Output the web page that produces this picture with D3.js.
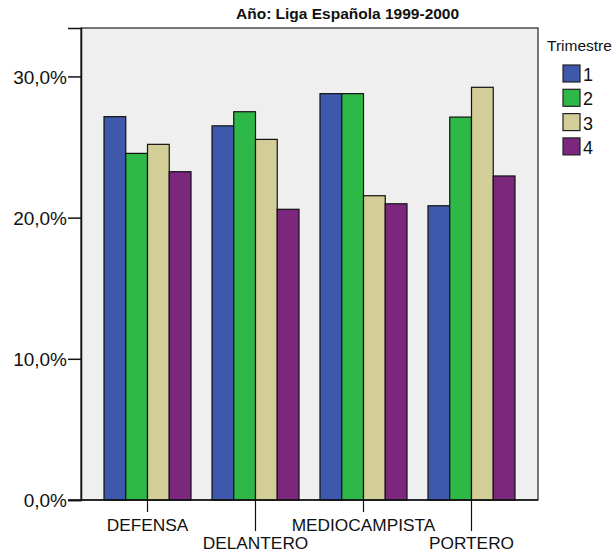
<!DOCTYPE html>
<html><head><meta charset="utf-8">
<script src="https://cdn.jsdelivr.net/npm/d3@7"></script>
<style>body{margin:0;background:#fff;} text{font-family:Arial,"Liberation Sans",sans-serif;}</style>
</head><body>
<svg id="c" width="614" height="557"></svg>
<script>
const categories = ["DEFENSA","DELANTERO","MEDIOCAMPISTA","PORTERO"];
const quarters = ["1","2","3","4"];
const q1 = [27.15, 26.5, 28.78, 20.84];
const q2 = [24.55, 27.5, 28.78, 27.12];
const q3 = [25.19, 25.54, 21.55, 29.23];
const q4 = [23.25, 20.59, 20.98, 22.95];
const yTicks = [0, 10, 20, 30];
const colors = ["#3e58ac", "#2eb848", "#d3ce97", "#7b277d"];
const title = "Año: Liga Española 1999-2000";
const legendTitle = "Trimestre";

const series = [q1, q2, q3, q4];
const svg = d3.select("#c");
const L = 81, R = 538, T = 28, B = 500;

const x = d3.scaleBand().domain(categories).range([L, R]).paddingInner(0.1944).paddingOuter(0.213);
const xi = d3.scaleBand().domain(quarters).range([0, x.bandwidth()]);
const y = d3.scaleLinear().domain([0, 33.43]).range([B, T]);

svg.append("rect").attr("x", L).attr("y", T).attr("width", R - L).attr("height", B - T)
  .attr("fill", "#efefef").attr("stroke", "#222").attr("stroke-width", 1.2);

categories.forEach((c, ci) => {
  const g = svg.append("g").attr("transform", `translate(${x(c)},0)`);
  quarters.forEach((q, qi) => {
    const v = series[qi][ci];
    g.append("rect").attr("x", xi(q)).attr("y", y(v)).attr("width", xi.bandwidth()).attr("height", B - y(v))
      .attr("fill", colors[qi]).attr("stroke", "#111").attr("stroke-width", 1.2);
  });
});

// y axis
const yAxis = d3.axisLeft(y).tickValues(yTicks).tickSize(13).tickPadding(1)
  .tickFormat(d => d3.format(".1f")(d).replace(".", ",") + "%");
const ya = svg.append("g").attr("transform", `translate(${L},0)`).call(yAxis);
ya.select(".domain").attr("stroke", "#111").attr("stroke-width", 1.5);
ya.selectAll(".tick line").attr("stroke", "#111").attr("stroke-width", 1.5);
ya.selectAll(".tick text").attr("font-size", 19).attr("fill", "#111").attr("dy", "0.35em")
  .style("font-family", "Arial, 'Liberation Sans', sans-serif");

// x axis
svg.append("line").attr("x1", L - 13).attr("x2", R).attr("y1", B).attr("y2", B).attr("stroke", "#111").attr("stroke-width", 1.5);
categories.forEach((c, ci) => {
  const cx = x(c) + x.bandwidth() / 2;
  const long = ci % 2 === 1;
  svg.append("line").attr("x1", cx).attr("x2", cx).attr("y1", B).attr("y2", B + (long ? 31 : 12))
    .attr("stroke", "#111").attr("stroke-width", 1.2);
  svg.append("text").attr("x", cx).attr("y", long ? 549 : 531).attr("text-anchor", "middle")
    .attr("font-size", 17.3).attr("fill", "#111").text(c);
});

// title
svg.append("text").attr("x", 236).attr("y", 19).attr("font-size", 15.5).attr("font-weight", "bold")
  .attr("fill", "#111").text(title);

// legend
svg.append("text").attr("x", 547).attr("y", 51).attr("font-size", 15.5).attr("fill", "#111").text(legendTitle);
quarters.forEach((q, qi) => {
  const yy = 65 + qi * 24.3;
  svg.append("rect").attr("x", 563).attr("y", yy).attr("width", 17).attr("height", 17)
    .attr("fill", colors[qi]).attr("stroke", "#222").attr("stroke-width", 1.2);
  svg.append("text").attr("x", 583).attr("y", yy + 16).attr("font-size", 18).attr("fill", "#111").text(q);
});
</script>
</body></html>
